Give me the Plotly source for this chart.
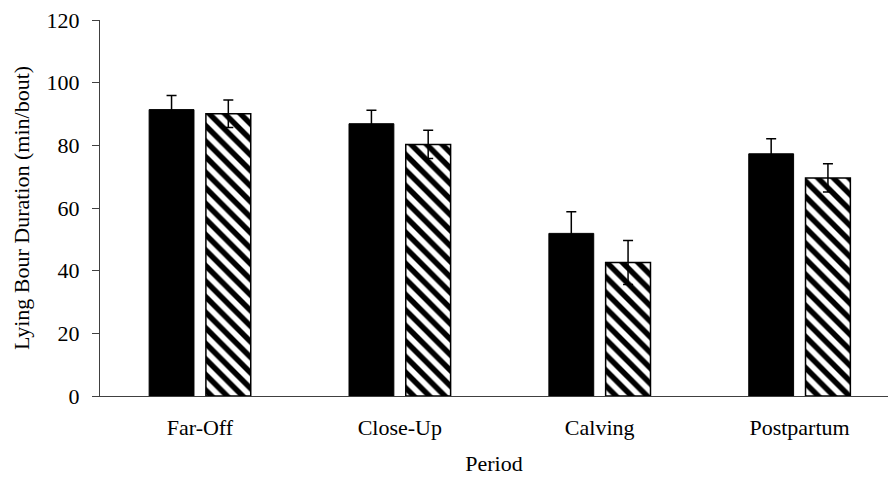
import plotly.graph_objects as go

categories = ["Far-Off", "Close-Up", "Calving", "Postpartum"]
series_a = [91.4, 86.9, 51.9, 77.3]
series_a_err = [4.5, 4.3, 6.9, 4.8]
series_b = [90.1, 80.3, 42.6, 69.6]
series_b_err = [4.4, 4.5, 7.0, 4.5]
y_ticks = [0, 20, 40, 60, 80, 100, 120]

font_family = "Liberation Serif"
fsize = 22

fig = go.Figure()
fig.add_trace(go.Bar(
    x=categories, y=series_a,
    marker=dict(color="black", line=dict(color="black", width=1)),
    error_y=dict(type="data", array=series_a_err, color="black", thickness=1.5, width=5),
    showlegend=False,
))
fig.add_trace(go.Bar(
    x=categories, y=series_b,
    marker=dict(color="white", line=dict(color="black", width=1.5),
                pattern=dict(shape="\\", fgcolor="black", bgcolor="white", fgopacity=1,
                             size=11, solidity=0.5, fillmode="replace")),
    error_y=dict(type="data", array=series_b_err, color="black", thickness=1.5, width=5),
    showlegend=False,
))

fig.update_layout(
    width=888, height=479,
    margin=dict(l=100, r=0, t=20, b=83),
    paper_bgcolor="white", plot_bgcolor="white",
    barmode="group", bargap=0.432, bargroupgap=0.21,
    font=dict(family=font_family, size=fsize, color="black"),
    xaxis=dict(
        range=[-0.5, 3.4425],
        showline=True, linecolor="#404040", linewidth=1,
        ticks="", showgrid=False,
        title=dict(text="Period", standoff=16, font=dict(family=font_family, size=fsize)),
        tickfont=dict(family=font_family, size=fsize),
        ticklabelstandoff=12,
    ),
    yaxis=dict(
        range=[0, 120], tickvals=y_ticks,
        showline=True, linecolor="#404040", linewidth=1,
        ticks="outside", ticklen=7, tickcolor="#404040",
        showgrid=False, zeroline=False,
        title=dict(text="Lying Bour Duration (min/bout)", standoff=10, font=dict(family=font_family, size=fsize)),
        tickfont=dict(family=font_family, size=fsize),
        ticklabelstandoff=8,
    ),
)

fig.write_html("out.html")
